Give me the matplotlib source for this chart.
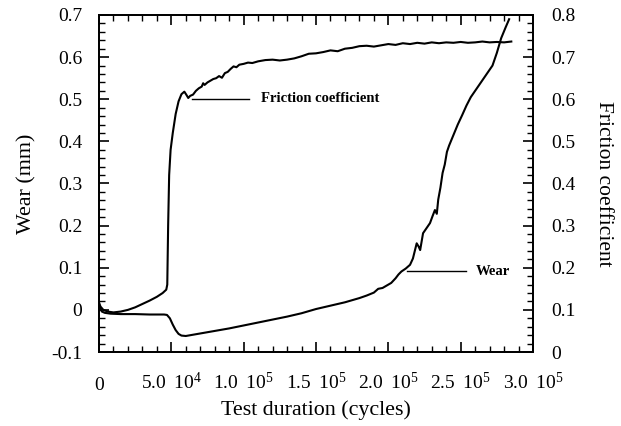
import matplotlib
matplotlib.use("Agg")
import matplotlib.pyplot as plt
from matplotlib.ticker import MultipleLocator

plt.rcParams['font.family'] = ['Liberation Serif', 'DejaVu Serif']
plt.rcParams['mathtext.fontset'] = 'custom'
plt.rcParams['mathtext.rm'] = 'Liberation Serif'
plt.rcParams['mathtext.default'] = 'regular'

# ---- data ----
friction_cycles = [0, 1000, 3000, 6000, 10000, 15000, 20000, 25000, 30000, 35000,
                   40000, 44000, 46500, 47200, 47800, 48500, 49500, 51000, 53000,
                   55000, 57000, 59000, 60500, 61700, 63000, 65000, 67000, 69000,
                   71000, 72000, 73000, 75000, 77000, 79000, 81000, 83000, 85000,
                   87000, 89000, 91000, 93000, 95000, 97000, 100000, 103000, 106000,
                   110000, 115000, 120000, 125000, 130000, 135000, 140000, 145000,
                   150000, 155000, 160000, 165000, 170000, 175000, 180000, 185000,
                   190000, 195000, 200000, 205000, 210000, 215000, 220000, 225000,
                   230000, 235000, 240000, 245000, 250000, 255000, 260000, 265000,
                   270000, 275000, 280000, 285000]
friction_values = [0.118, 0.108, 0.100, 0.096, 0.094, 0.096, 0.100, 0.106, 0.114, 0.122,
                   0.131, 0.140, 0.148, 0.160, 0.300, 0.420, 0.480, 0.520, 0.565,
                   0.595, 0.612, 0.618, 0.610, 0.603, 0.608, 0.611, 0.620, 0.626,
                   0.630, 0.638, 0.634, 0.640, 0.644, 0.648, 0.650, 0.655, 0.651,
                   0.662, 0.665, 0.672, 0.678, 0.676, 0.682, 0.684, 0.687, 0.686,
                   0.690, 0.693, 0.694, 0.692, 0.694, 0.697, 0.702, 0.708, 0.709,
                   0.712, 0.716, 0.714, 0.720, 0.722, 0.726, 0.727, 0.725, 0.728,
                   0.731, 0.729, 0.733, 0.731, 0.734, 0.732, 0.735, 0.733, 0.735,
                   0.734, 0.736, 0.734, 0.735, 0.737, 0.735, 0.736, 0.735, 0.737]

wear_cycles = [0, 1000, 2000, 4000, 8000, 15000, 25000, 35000, 45000, 47000, 49000,
               51000, 53000, 55000, 57000, 60000, 65000, 70000, 80000, 90000, 100000,
               110000, 120000, 130000, 140000, 150000, 160000, 170000, 180000, 185000,
               190000, 193000, 196000, 199000, 202000, 205000, 207000, 209000, 212000,
               215000, 217000, 219600, 221000, 222000, 224000, 226000, 228800, 230500,
               232200, 233500, 234500, 236000, 237500, 239000, 240500, 242000,
               245000, 248000, 251000, 254000, 257000, 260000, 263000, 266000, 269000,
               272000, 275000, 278000, 281000, 283500]
wear_values = [0.012, 0.002, -0.004, -0.007, -0.009, -0.010, -0.010, -0.011, -0.011, -0.012,
               -0.020, -0.035, -0.048, -0.057, -0.061, -0.062, -0.059, -0.056, -0.050,
               -0.044, -0.037, -0.030, -0.023, -0.016, -0.008, 0.002, 0.010, 0.018,
               0.028, 0.034, 0.041, 0.050, 0.052, 0.058, 0.064, 0.075, 0.084, 0.091,
               0.098, 0.107, 0.122, 0.158, 0.150, 0.142, 0.182, 0.192, 0.206, 0.222,
               0.237, 0.228, 0.262, 0.290, 0.325, 0.345, 0.375, 0.390, 0.415,
               0.440, 0.462, 0.485, 0.505, 0.520, 0.535, 0.550, 0.565, 0.580, 0.610,
               0.645, 0.670, 0.690]

xtick_values = [0, 50000, 100000, 150000, 200000, 250000, 300000]
xtick_labels = ["0", r"5.0 $\,$10$^4$", r"1.0 $\,$10$^5$", r"1.5 $\,$10$^5$",
                r"2.0 $\,$10$^5$", r"2.5 $\,$10$^5$", r"3.0 $\,$10$^5$"]
wear_ticks = [-0.1, 0, 0.1, 0.2, 0.3, 0.4, 0.5, 0.6, 0.7]
wear_ticklabels = ["-0.1", "0", "0.1", "0.2", "0.3", "0.4", "0.5", "0.6", "0.7"]
fric_ticks = [0, 0.1, 0.2, 0.3, 0.4, 0.5, 0.6, 0.7, 0.8]
fric_ticklabels = ["0", "0.1", "0.2", "0.3", "0.4", "0.5", "0.6", "0.7", "0.8"]

# ---- figure ----
fig = plt.figure(figsize=(6.21, 4.26), dpi=100)
ax = fig.add_axes([0.1594, 0.1737, 0.6989, 0.7911])
ax2 = ax.twinx()

ax.plot(wear_cycles, wear_values, color='black', lw=1.5)
ax2.plot(friction_cycles, friction_values, color='black', lw=1.5)

ax.set_xlim(0, 300000)
ax.set_ylim(-0.1, 0.7)
ax2.set_ylim(0, 0.8)

ax.set_xticks(xtick_values)
ax.set_xticklabels(xtick_labels)
ax.set_yticks(wear_ticks)
ax.set_yticklabels(wear_ticklabels)
ax2.set_yticks(fric_ticks)
ax2.set_yticklabels(fric_ticklabels)

ax.xaxis.set_minor_locator(MultipleLocator(10000))
ax.yaxis.set_minor_locator(MultipleLocator(0.02))
ax2.yaxis.set_minor_locator(MultipleLocator(0.02))

for a in (ax, ax2):
    for s in a.spines.values():
        s.set_linewidth(1.3)
ax.tick_params(axis='both', which='major', direction='in', length=7.5, width=1.2,
               labelsize=14, top=True)
ax.tick_params(axis='both', which='minor', direction='in', length=4.2, width=1.0, top=True)
ax.tick_params(axis='x', which='major', pad=27)
ax.tick_params(axis='y', which='major', pad=12)
ax2.tick_params(axis='y', which='major', direction='in', length=7.5, width=1.2,
                labelsize=14, pad=13)
ax2.tick_params(axis='y', which='minor', direction='in', length=4.2, width=1.0)
for t in ax.get_xticklabels():
    t.set_verticalalignment('baseline')

ax.set_xlabel("Test duration (cycles)", fontsize=15.8, labelpad=5)
ax.set_ylabel("Wear (mm)", fontsize=15.8, labelpad=11)
ax2.set_ylabel("Friction coefficient", fontsize=15.5, rotation=270, labelpad=27)

# annotations
ax.plot([64000, 104000], [0.501, 0.501], color='black', lw=1.0)
ax.text(112000, 0.501, "Friction coefficient", fontsize=10.5, fontweight='bold', va='center')
ax.plot([212600, 254000], [0.092, 0.092], color='black', lw=1.0)
ax.text(260500, 0.092, "Wear", fontsize=10.5, fontweight='bold', va='center')

fig.savefig("out.png", dpi=100)
